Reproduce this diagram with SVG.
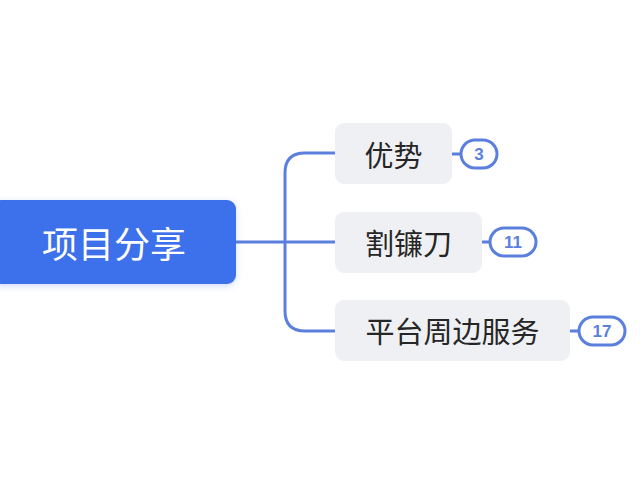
<svg xmlns="http://www.w3.org/2000/svg" width="640" height="493" viewBox="0 0 640 493">
  <defs>
    <filter id="shadow" x="-20%" y="-30%" width="140%" height="160%">
      <feDropShadow dx="0" dy="2" stdDeviation="3" flood-color="#3d6feb" flood-opacity="0.25"/>
    </filter>
    <style>
      .conn { fill: none; stroke: #5a7fdc; stroke-width: 3; stroke-linecap: round; }
      .topic { fill: #eff0f3; }
      .ttext { font-family: "Noto Sans CJK SC", "Noto Sans", sans-serif; font-size: 29px; fill: #262626; text-anchor: middle; dominant-baseline: central; }
      .badge { fill: #ffffff; stroke: #5a7fdc; stroke-width: 3; }
      .btext { font-family: "Liberation Sans", "Noto Sans", sans-serif; font-size: 17px; font-weight: bold; fill: #5a7fdc; text-anchor: middle; dominant-baseline: central; }
    </style>
  </defs>
  <rect width="640" height="493" fill="#ffffff"/>
  <g id="connectors">
    <path class="conn" d="M236,242 H335"/>
    <path class="conn" d="M335,153 H305 Q285,153 285,173 V311 Q285,331 305,331 H335"/>
    <path class="conn" d="M452,154 H461"/>
    <path class="conn" d="M482,242 H490"/>
    <path class="conn" d="M570,331 H579"/>
  </g>
  <g id="root">
    <rect x="-8" y="200" width="244" height="84" rx="9" fill="#3d6feb" filter="url(#shadow)"/>
    <text x="114" y="242" font-family="Noto Sans CJK SC, Noto Sans, sans-serif" font-size="36" fill="#ffffff" text-anchor="middle" dominant-baseline="central">项目分享</text>
  </g>
  <g id="node-youshi">
    <rect class="topic" x="335" y="123" width="117" height="61" rx="9"/>
    <text class="ttext" x="393.5" y="154">优势</text>
  </g>
  <g id="node-gelian">
    <rect class="topic" x="335" y="212" width="147" height="61" rx="9"/>
    <text class="ttext" x="408.5" y="242">割镰刀</text>
  </g>
  <g id="node-pingtai">
    <rect class="topic" x="335" y="300" width="235" height="61" rx="9"/>
    <text class="ttext" x="452.5" y="330">平台周边服务</text>
  </g>
  <g id="badge-3">
    <rect class="badge" x="461" y="140" width="36" height="28" rx="14"/>
    <text class="btext" x="479" y="154">3</text>
  </g>
  <g id="badge-11">
    <rect class="badge" x="490" y="228" width="46" height="28" rx="14"/>
    <text class="btext" x="513" y="242">11</text>
  </g>
  <g id="badge-17">
    <rect class="badge" x="579" y="317" width="46" height="28" rx="14"/>
    <text class="btext" x="602" y="331">17</text>
  </g>
</svg>
